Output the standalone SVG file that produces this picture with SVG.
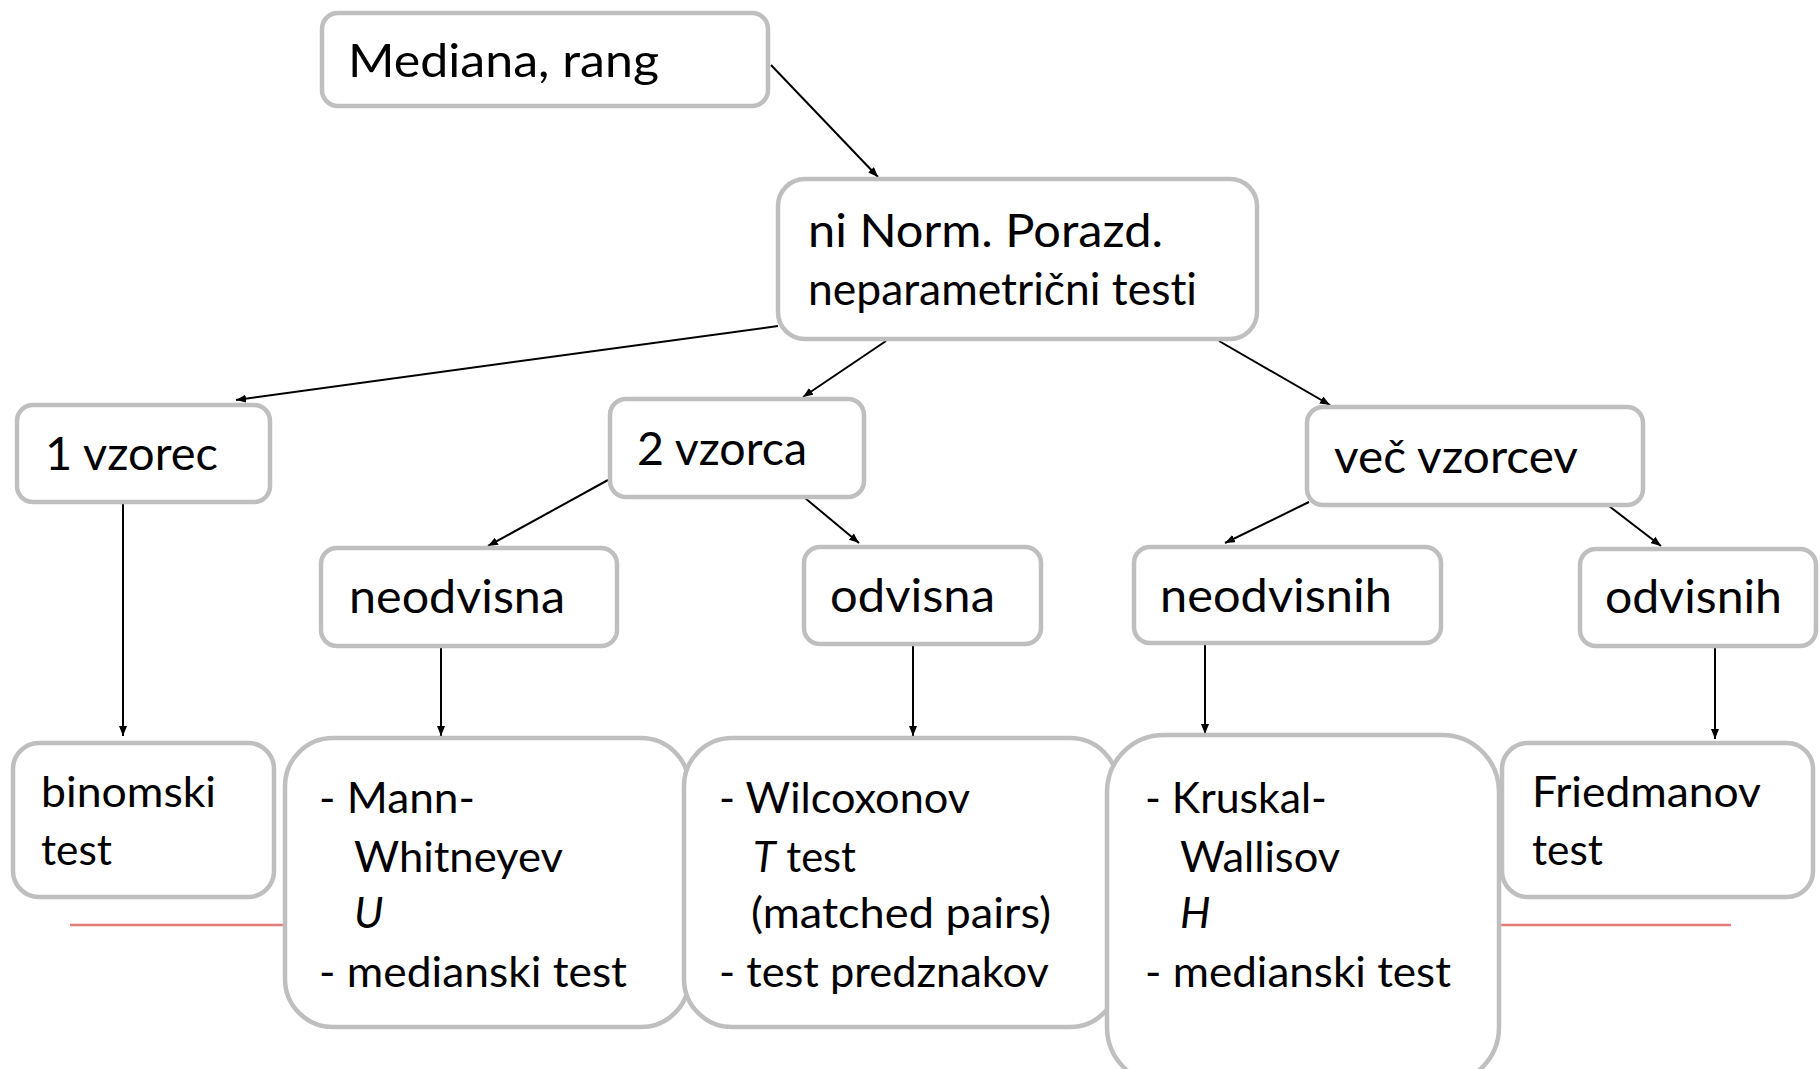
<svg xmlns="http://www.w3.org/2000/svg" width="1820" height="1069" viewBox="0 0 1820 1069">
<style>
.box{fill:#ffffff;stroke:#BFBFBF;stroke-width:4.5}
.t{font-family:Lato,"Open Sans","Noto Sans",sans-serif;fill:#000000;font-variant-ligatures:none;font-feature-settings:"liga" 0,"clig" 0}
.big{font-size:47px}
.mid{font-size:45px}
.sm{font-size:43px}
.it{font-style:italic}
.conn line{stroke:#000000;stroke-width:2}
.arr{marker-end:url(#ah)}
</style>
<defs>
<marker id="ah" markerUnits="userSpaceOnUse" markerWidth="10" markerHeight="8" refX="10" refY="4" orient="auto">
<path d="M0,0 L10,4 L0,8 z" fill="#000000"/>
</marker>
</defs>
<rect width="1820" height="1069" fill="#ffffff"/>
<line x1="70" y1="925" x2="1731" y2="925" stroke="#E57C7C" stroke-width="2.5"/>
<g class="conn">
<line class="arr" x1="771" y1="65" x2="878" y2="177"/>
<line class="arr" x1="778" y1="326" x2="236" y2="400"/>
<line class="arr" x1="886" y1="341" x2="803" y2="397"/>
<line class="arr" x1="1219" y1="341" x2="1330" y2="405"/>
<line class="arr" x1="123" y1="502" x2="123" y2="736"/>
<line class="arr" x1="608" y1="480" x2="488" y2="546"/>
<line class="arr" x1="805" y1="498" x2="859" y2="543"/>
<line class="arr" x1="441" y1="647" x2="441" y2="736"/>
<line class="arr" x1="913" y1="645" x2="913" y2="736"/>
<line class="arr" x1="1309" y1="502" x2="1225" y2="543"/>
<line class="arr" x1="1609" y1="506" x2="1661" y2="546"/>
<line class="arr" x1="1205" y1="645" x2="1205" y2="734"/>
<line class="arr" x1="1715" y1="647" x2="1715" y2="739"/>
</g>
<g id="n-mediana">
<rect class="box" x="322" y="13" width="446" height="93" rx="16"/>
<text class="t big" x="348" y="77" textLength="311" lengthAdjust="spacingAndGlyphs">Mediana, rang</text>
</g>
<g id="n-ninorm">
<rect class="box" x="778" y="179" width="479" height="160" rx="27"/>
<text class="t big" x="808" y="247" textLength="355" lengthAdjust="spacingAndGlyphs">ni Norm. Porazd.</text>
<text class="t mid" x="808" y="305" textLength="389" lengthAdjust="spacingAndGlyphs">neparametrični testi</text>
</g>
<g id="n-1vzorec">
<rect class="box" x="17" y="405" width="253" height="97" rx="16"/>
<text class="t big" x="45" y="470" textLength="173" lengthAdjust="spacingAndGlyphs">1 vzorec</text>
</g>
<g id="n-2vzorca">
<rect class="box" x="610" y="399" width="254" height="98" rx="16"/>
<text class="t big" x="637" y="465" textLength="170" lengthAdjust="spacingAndGlyphs">2 vzorca</text>
</g>
<g id="n-vec">
<rect class="box" x="1307" y="407" width="336" height="98" rx="16"/>
<text class="t big" x="1334" y="473" textLength="244" lengthAdjust="spacingAndGlyphs">več vzorcev</text>
</g>
<g id="n-neodvisna">
<rect class="box" x="321" y="548" width="296" height="98" rx="16"/>
<text class="t big" x="349" y="613" textLength="216" lengthAdjust="spacingAndGlyphs">neodvisna</text>
</g>
<g id="n-odvisna">
<rect class="box" x="804" y="547" width="237" height="97" rx="16"/>
<text class="t big" x="830" y="612" textLength="165" lengthAdjust="spacingAndGlyphs">odvisna</text>
</g>
<g id="n-neodvisnih">
<rect class="box" x="1134" y="547" width="307" height="96" rx="16"/>
<text class="t big" x="1160" y="612" textLength="232" lengthAdjust="spacingAndGlyphs">neodvisnih</text>
</g>
<g id="n-odvisnih">
<rect class="box" x="1580" y="549" width="236" height="97" rx="16"/>
<text class="t big" x="1605" y="613" textLength="177" lengthAdjust="spacingAndGlyphs">odvisnih</text>
</g>
<g id="n-binomski">
<rect class="box" x="13" y="743" width="261" height="154" rx="26"/>
<text class="t sm" x="41" y="807" textLength="175" lengthAdjust="spacingAndGlyphs">binomski</text>
<text class="t sm" x="41" y="865" textLength="71" lengthAdjust="spacingAndGlyphs">test</text>
</g>
<g id="n-mann">
<rect class="box" x="285" y="738" width="404" height="289" rx="48"/>
<text class="t sm" x="319" y="813" textLength="156" lengthAdjust="spacingAndGlyphs">- Mann-</text>
<text class="t sm" x="354" y="872" textLength="209" lengthAdjust="spacingAndGlyphs">Whitneyev</text>
<text class="t sm it" x="354" y="928">U</text>
<text class="t sm" x="319" y="987" textLength="308" lengthAdjust="spacingAndGlyphs">- medianski test</text>
</g>
<g id="n-wilcoxon">
<rect class="box" x="684" y="738" width="434" height="289" rx="48"/>
<text class="t sm" x="719" y="813" textLength="251" lengthAdjust="spacingAndGlyphs">- Wilcoxonov</text>
<text class="t sm" x="753" y="872" textLength="103" lengthAdjust="spacingAndGlyphs"><tspan class="it">T</tspan> test</text>
<text class="t sm" x="751" y="928" textLength="300" lengthAdjust="spacingAndGlyphs">(matched pairs)</text>
<text class="t sm" x="719" y="987" textLength="330" lengthAdjust="spacingAndGlyphs">- test predznakov</text>
</g>
<g id="n-kruskal">
<rect class="box" x="1107" y="735" width="392" height="349" rx="57"/>
<text class="t sm" x="1145" y="813" textLength="182" lengthAdjust="spacingAndGlyphs">- Kruskal-</text>
<text class="t sm" x="1180" y="872" textLength="160" lengthAdjust="spacingAndGlyphs">Wallisov</text>
<text class="t sm it" x="1180" y="928">H</text>
<text class="t sm" x="1145" y="987" textLength="306" lengthAdjust="spacingAndGlyphs">- medianski test</text>
</g>
<g id="n-friedman">
<rect class="box" x="1502" y="743" width="311" height="154" rx="26"/>
<text class="t sm" x="1532" y="807" textLength="229" lengthAdjust="spacingAndGlyphs">Friedmanov</text>
<text class="t sm" x="1532" y="865" textLength="71" lengthAdjust="spacingAndGlyphs">test</text>
</g>
</svg>
